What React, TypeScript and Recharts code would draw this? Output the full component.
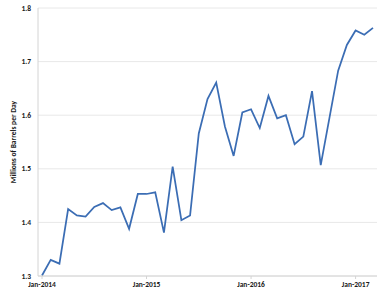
import React from 'react';
import { LineChart, Line, XAxis, YAxis, CartesianGrid } from 'recharts';

const months = ['Jan', 'Feb', 'Mar', 'Apr', 'May', 'Jun', 'Jul', 'Aug', 'Sep', 'Oct', 'Nov', 'Dec'];
const years = [2014, 2015, 2016, 2017];

const categories: string[] = [];
years.forEach((y) => months.forEach((m) => categories.push(`${m}-${y}`)));

const values = [
  1.301, 1.330, 1.323, 1.425, 1.413, 1.411, 1.429, 1.436, 1.423, 1.428, 1.388, 1.453,
  1.453, 1.456, 1.381, 1.504, 1.404, 1.413, 1.566, 1.630, 1.661, 1.579, 1.524, 1.605,
  1.611, 1.576, 1.636, 1.594, 1.600, 1.546, 1.560, 1.645, 1.507, 1.595, 1.683, 1.731,
  1.758, 1.750, 1.763,
];

const yTicks = [1.3, 1.4, 1.5, 1.6, 1.7, 1.8];
const yLabel = 'Millions of Barrels per Day';

const data = values.map((v, i) => ({ month: categories[i], value: v }));

const FONT = 'Carlito, "Liberation Sans", Arial, sans-serif';

const YLabel = (props: any) => {
  const vb = props.viewBox || {};
  const cx = (vb.x ?? 0) + 13;
  const cy = (vb.y ?? 0) + (vb.height ?? 0) / 2;
  return (
    <text
      x={cx}
      y={cy}
      transform={`rotate(-90, ${cx}, ${cy})`}
      textAnchor="middle"
      dominantBaseline="central"
      fontFamily={FONT}
      fontWeight="bold"
      fontSize={7.5}
      fill="#1a1a1a"
    >
      {yLabel}
    </text>
  );
};

export default function App() {
  return (
    <div style={{ position: 'absolute', left: 0, top: 0, background: '#fff' }}>
      <LineChart
        width={385}
        height={295}
        data={data}
        margin={{ top: 8, right: 8, bottom: 5, left: 0 }}
      >
        <CartesianGrid vertical={false} stroke="#e8e8e8" strokeWidth={1} />
        <XAxis
          dataKey="month"
          interval={11}
          padding={{ left: 4, right: 4 }}
          height={14}
          tickSize={3}
          tickMargin={3}
          stroke="#d4d4d4"
          tick={{ fontSize: 7.5, fontWeight: 'bold', fill: '#1a1a1a', fontFamily: FONT }}
        />
        <YAxis
          domain={[1.3, 1.8]}
          ticks={yTicks}
          width={38}
          tickSize={0}
          tickMargin={7}
          stroke="#d4d4d4"
          tickFormatter={(v: number) => v.toFixed(1)}
          tick={{ fontSize: 7.5, fontWeight: 'bold', fill: '#1a1a1a', fontFamily: FONT }}
          label={<YLabel />}
        />
        <Line
          type="linear"
          dataKey="value"
          stroke="#3b6db4"
          strokeWidth={1.75}
          dot={false}
          isAnimationActive={false}
        />
      </LineChart>
    </div>
  );
}
